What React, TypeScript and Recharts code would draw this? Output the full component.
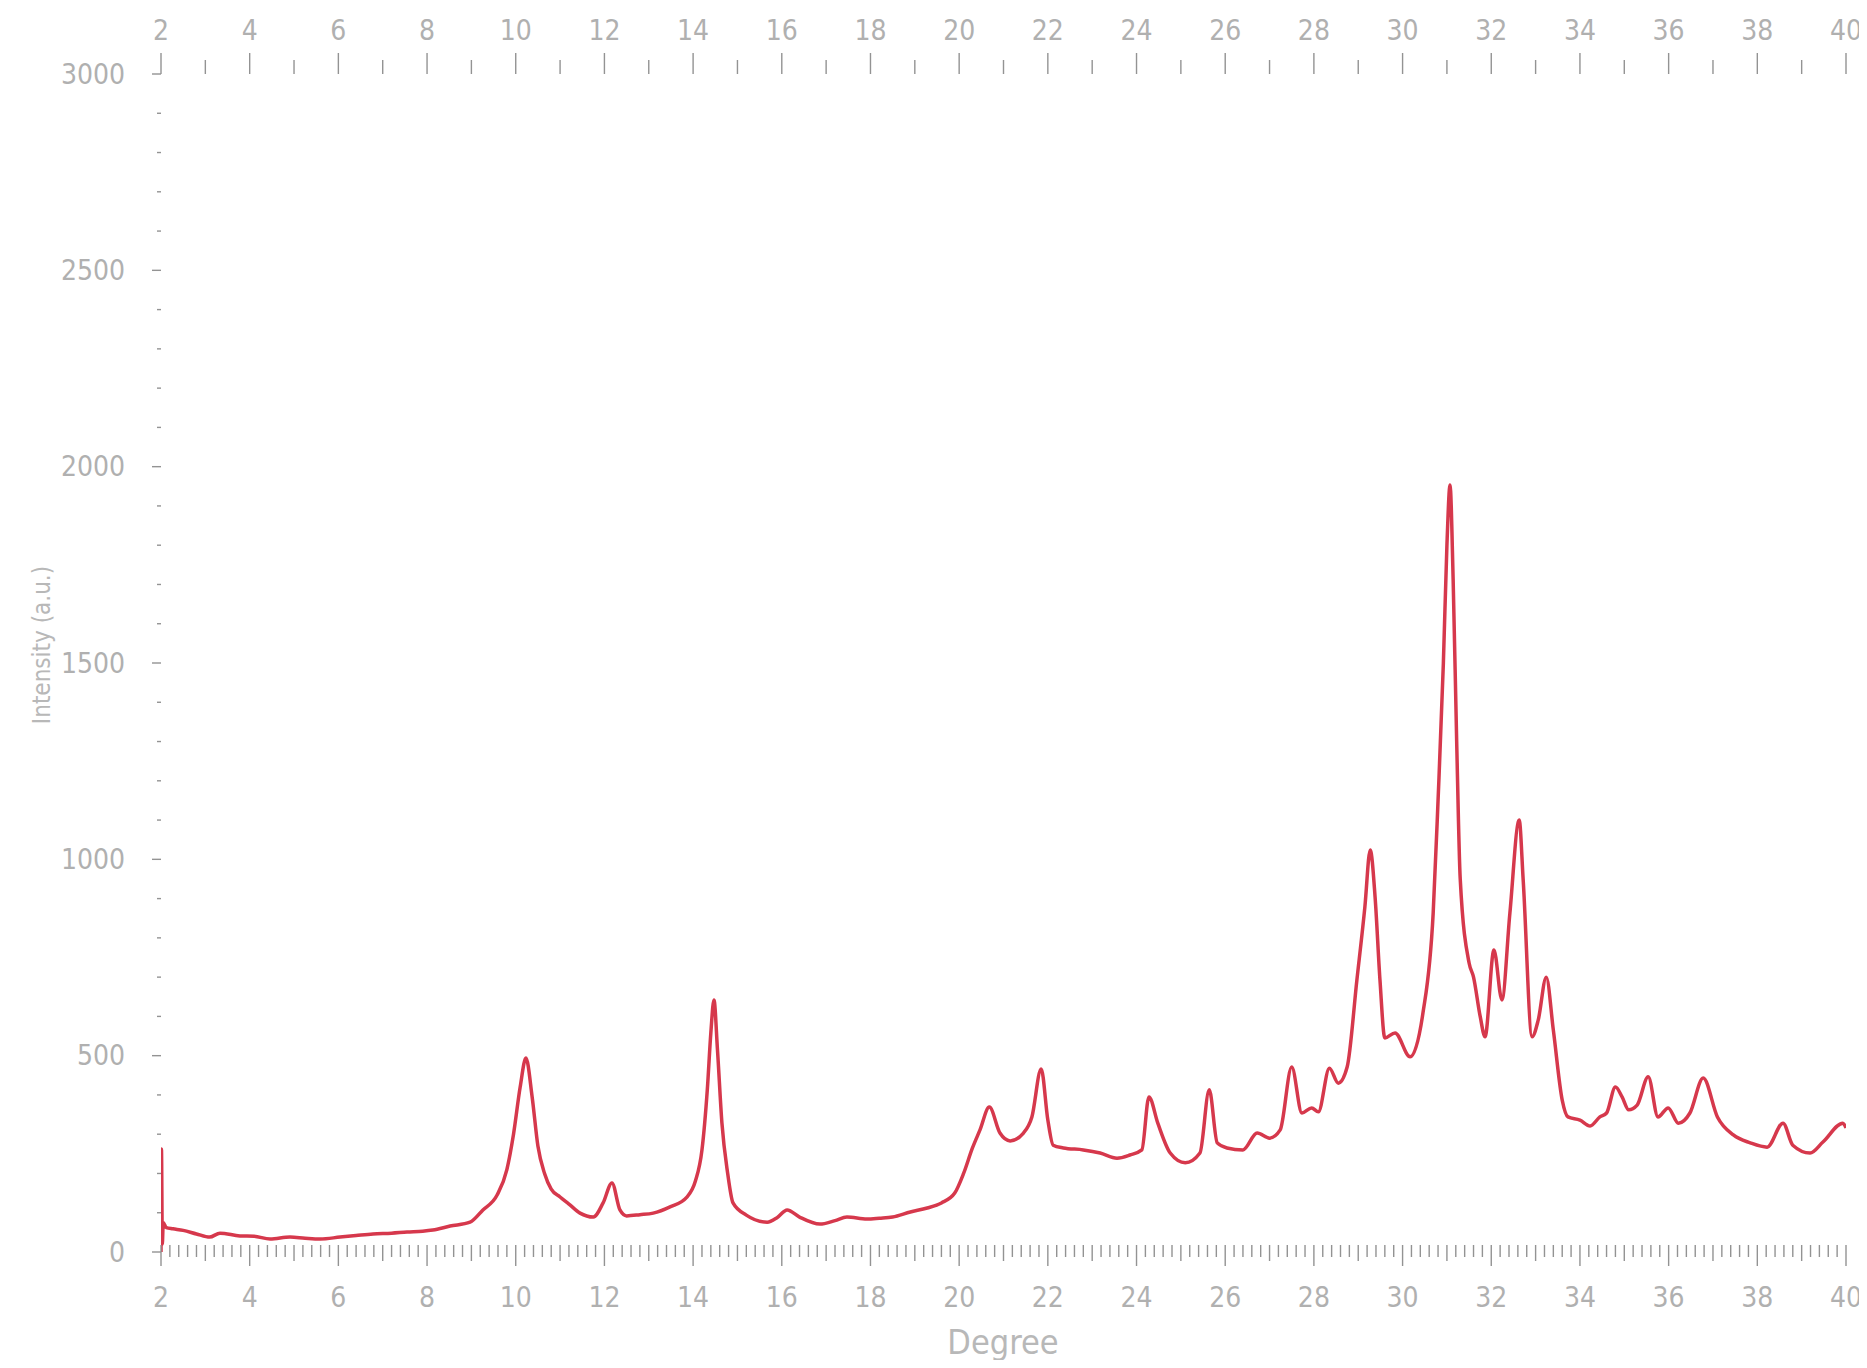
import { LineChart, Line, XAxis, YAxis } from 'recharts';

// 2-theta positions (degree) and counts
const degrees = [
  2.0, 2.01, 2.03, 2.05, 2.12, 2.27, 2.5, 2.8, 3.1, 3.33, 3.78, 4.1, 4.46, 4.91, 5.25, 5.59, 6.04, 6.4,
  6.78, 7.2, 7.55, 7.9, 8.13, 8.52, 8.97, 9.26, 9.58, 9.8, 9.95, 10.1, 10.23, 10.37, 10.5, 10.65, 10.8,
  11.0, 11.2, 11.45, 11.75, 11.97, 12.17, 12.35, 12.5, 12.8, 13.1, 13.48, 13.86, 14.05, 14.2, 14.32,
  14.4, 14.47, 14.55, 14.65, 14.78, 14.9, 15.2, 15.67, 15.9, 16.12, 16.4, 16.86, 17.2, 17.47, 17.92,
  18.2, 18.5, 18.9, 19.28, 19.6, 19.9, 20.1, 20.3, 20.47, 20.68, 20.92, 21.15, 21.45, 21.64, 21.85,
  22.0, 22.12, 22.35, 22.8, 23.18, 23.56, 23.85, 24.12, 24.28, 24.48, 24.76, 25.1, 25.43, 25.64, 25.82,
  26.04, 26.4, 26.72, 27.0, 27.24, 27.5, 27.73, 27.95, 28.1, 28.35, 28.55, 28.75, 28.97, 29.15, 29.27,
  29.38, 29.49, 29.6, 29.83, 30.17, 30.46, 30.69, 30.8, 30.92, 31.0, 31.07, 31.14, 31.22, 31.3, 31.5,
  31.6, 31.75, 31.86, 32.06, 32.24, 32.42, 32.63, 32.72, 32.92, 33.06, 33.24, 33.4, 33.6, 33.73, 34.0,
  34.23, 34.45, 34.6, 34.8, 34.95, 35.1, 35.29, 35.54, 35.76, 35.99, 36.22, 36.48, 36.78, 37.1, 37.46,
  37.84, 38.22, 38.58, 38.8, 39.19, 39.48, 39.93, 40.0,
];
const intensity = [
  0, 262, 20, 75, 62, 59, 55, 46, 38, 48, 41, 40, 33, 38, 35, 33, 38, 42,
  46, 48, 51, 53, 56, 66, 76, 107, 145, 210, 300, 420, 494, 395, 270, 200, 160,
  140, 122, 99, 89, 125, 176, 107, 92, 95, 99, 115, 140, 180, 260, 413,
  558, 642, 514, 328, 200, 125, 94, 76, 88, 107, 89, 71, 80, 89, 84,
  86, 89, 102, 112, 125, 150, 200, 265, 311, 369, 303, 283, 303, 344, 466,
  336, 272, 265, 260, 252, 239, 247, 260, 395, 328, 252, 227, 252, 413, 278,
  265, 260, 303, 290, 311, 471, 354, 367, 357, 468, 430, 471, 693, 879, 1024,
  904, 693, 545, 558, 497, 609, 863, 1150, 1500, 1800, 1953, 1714, 1300, 950, 736,
  700, 600, 548, 769, 642, 863, 1100, 947, 548, 591, 700, 565, 387, 344, 336,
  321, 344, 354, 420, 395, 362, 374, 446, 344, 367, 328, 354, 443, 344, 298,
  278, 267, 328, 272, 252, 280, 328, 316,
];

const xLabels = [2, 4, 6, 8, 10, 12, 14, 16, 18, 20, 22, 24, 26, 28, 30, 32, 34, 36, 38, 40];
const yLabels = [0, 500, 1000, 1500, 2000, 2500, 3000];

const data = degrees.map((d, i) => ({ degree: d, intensity: intensity[i] }));

const bottomTicks = Array.from({ length: 191 }, (_, i) => Math.round((2 + i * 0.2) * 10) / 10);
const topTicks = Array.from({ length: 39 }, (_, i) => 2 + i);
const leftTicks = Array.from({ length: 31 }, (_, i) => i * 100);

const FONT = "'DejaVu Sans Condensed', 'DejaVu Sans', sans-serif";
const LABEL = '#b0b0b0';
const TICK = '#939393';
const RED = '#d6384c';

const isInt = (v: number) => Math.abs(v - Math.round(v)) < 1e-6;

function BottomTick(props: any) {
  const { x, y, payload } = props;
  const v = payload.value;
  const major = isInt(v) && xLabels.includes(Math.round(v));
  return (
    <g>
      <line x1={x} x2={x} y1={y - 7} y2={y + (major ? 14 : isInt(v) ? 9 : 5)} stroke={TICK} strokeWidth={1.4} />
      {major && (
        <text x={x} y={y + 45} textAnchor="middle" dominantBaseline="central" fill={LABEL}
          style={{ fontFamily: FONT, fontSize: 28, fontStretch: 'condensed' }}>
          {Math.round(v)}
        </text>
      )}
    </g>
  );
}

function TopTick(props: any) {
  const { x, y, payload } = props;
  const v = payload.value;
  const major = xLabels.includes(v);
  return (
    <g>
      <line x1={x} x2={x} y1={y - (major ? 21 : 14)} y2={y} stroke={TICK} strokeWidth={1.4} />
      {major && (
        <text x={x} y={y - 44} textAnchor="middle" dominantBaseline="central" fill={LABEL}
          style={{ fontFamily: FONT, fontSize: 28, fontStretch: 'condensed' }}>
          {v}
        </text>
      )}
    </g>
  );
}

function LeftTick(props: any) {
  const { x, y, payload } = props;
  const v = payload.value;
  const major = yLabels.includes(v);
  return (
    <g>
      <line x1={x - (major ? 9 : 4)} x2={x} y1={y} y2={y} stroke={TICK} strokeWidth={1.4} />
      {major && (
        <text x={x - 36} y={y} textAnchor="end" dominantBaseline="central" fill={LABEL}
          style={{ fontFamily: FONT, fontSize: 28, fontStretch: 'condensed' }}>
          {v}
        </text>
      )}
    </g>
  );
}

export default function App() {
  return (
    <div style={{ position: 'relative', width: 1859, height: 1352 }}>
      <LineChart width={1859} height={1352} data={data} margin={{ top: 0, right: 21, bottom: 0, left: 0 }}>
        <XAxis
          xAxisId="bottom"
          dataKey="degree"
          type="number"
          domain={[2, 40]}
          allowDataOverflow
          ticks={bottomTicks}
          interval={0}
          height={108}
          axisLine={false}
          tickLine={false}
          tickSize={0}
          tickMargin={0}
          tick={<BottomTick />}
        />
        <XAxis
          xAxisId="top"
          dataKey="degree"
          orientation="top"
          type="number"
          domain={[2, 40]}
          allowDataOverflow
          ticks={topTicks}
          interval={0}
          height={66}
          axisLine={false}
          tickLine={false}
          tickSize={0}
          tickMargin={0}
          tick={<TopTick />}
        />
        <YAxis
          type="number"
          domain={[0, 3000]}
          allowDataOverflow
          ticks={leftTicks}
          interval={0}
          width={153}
          axisLine={false}
          tickLine={false}
          tickSize={0}
          tickMargin={0}
          tick={<LeftTick />}
        />
        <Line
          xAxisId="top"
          type="monotone"
          dataKey="intensity"
          stroke="none"
          dot={false}
          activeDot={false}
          legendType="none"
          isAnimationActive={false}
        />
        <Line
          xAxisId="bottom"
          type="monotone"
          dataKey="intensity"
          stroke={RED}
          strokeWidth={3.5}
          dot={false}
          isAnimationActive={false}
        />
      </LineChart>
      <div
        style={{
          position: 'absolute', left: 995, top: 1317, transform: 'translateX(-50%)', lineHeight: 1.0,
          fontFamily: FONT, fontStretch: 'condensed', fontSize: 34, color: '#b8b8b8', whiteSpace: 'nowrap',
        }}
      >
        Degree
      </div>
      <div
        style={{
          position: 'absolute', left: 34, top: 637, transform: 'translate(-50%, -50%) rotate(-90deg)',
          fontFamily: FONT, fontStretch: 'condensed', fontSize: 24, color: '#b8b8b8', whiteSpace: 'nowrap',
        }}
      >
        Intensity (a.u.)
      </div>
    </div>
  );
}
